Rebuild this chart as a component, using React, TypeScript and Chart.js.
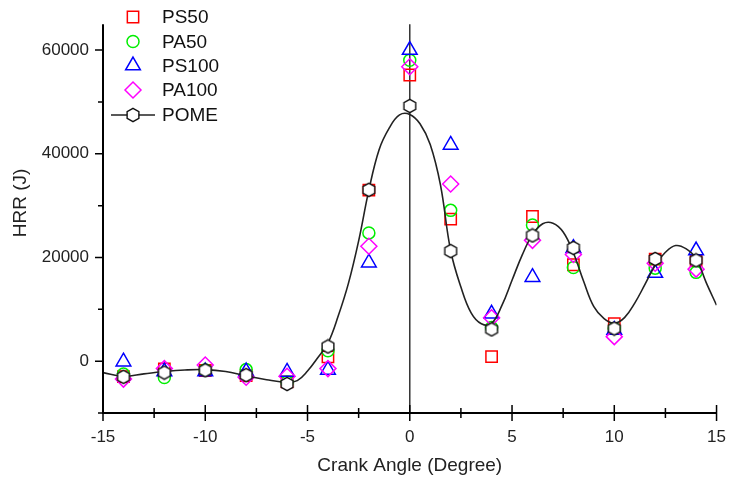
import React, { useEffect, useRef } from 'react';
import { Chart, registerables } from 'chart.js';

Chart.register(...registerables);

// Heat release rate (J) per crank angle (degree) for each fuel blend
const crankAngles = [-14, -12, -10, -8, -6, -4, -2, 0, 2, 4, 6, 8, 10, 12, 14];
const ps50 = [-3000, -1500, -1800, -2800, -4000, 830, 33000, 55200, 27400, 870, 27900, 18600, 7250, 19700, 19400];
const pa50 = [-2500, -3140, -1700, -1630, -4000, 2000, 24740, 58050, 29090, 6500, 26250, 18070, 6300, 17940, 17130];
const ps100 = [-100, -2000, -2000, -2000, -2070, -1700, 19000, 60000, 41700, 9140, 16200, 21800, 6000, 17000, 21340];
const pa100 = [-3460, -1440, -750, -3100, -2900, -1440, 22170, 56790, 34180, 8380, 23300, 20590, 4730, 18890, 17750];
const pome = [-3020, -2200, -1760, -2700, -4400, 2830, 33050, 49230, 21230, 6120, 24250, 21850, 6300, 19710, 19450];

// Smoothed POME fit curve
const fitAngles = [-15, -14, -13, -12, -11, -10, -9, -8, -7, -6, -5.5, -5, -4.5, -4, -3.5, -3, -2.5, -2, -1.5, -1, -0.5, 0, 0.5, 1, 1.5, 2, 2.5, 3, 3.5, 4, 4.5, 5, 5.5, 6, 6.5, 7, 7.5, 8, 8.5, 9, 9.5, 10, 10.5, 11, 11.5, 12, 12.5, 13, 13.5, 14, 14.5, 15];
const fitHrr = [-2200, -2900, -2450, -2000, -1700, -1630, -2000, -2830, -3590, -4080, -3750, -1900, 650, 3500, 8700, 15000, 23200, 33000, 40800, 45000, 47500, 47600, 45800, 41800, 34000, 21300, 14300, 9300, 7200, 7300, 10700, 15600, 20500, 24400, 26500, 26600, 24900, 20900, 15400, 10500, 8200, 7300, 8400, 11200, 14800, 18500, 21000, 22300, 21700, 19800, 15100, 10800];

const xMajorTicks = [-15, -10, -5, 0, 5, 10, 15];
const xMinorTicks = [-12.5, -7.5, -2.5, 2.5, 7.5, 12.5];
const yMajorTicks = [0, 20000, 40000, 60000];
const yMinorTicks = [-10000, 10000, 30000, 50000];

const FONT = "'Liberation Sans', Arial, Helvetica, sans-serif";

function makeHexagon(): HTMLCanvasElement {
  const c = document.createElement('canvas');
  c.width = 16;
  c.height = 16;
  const g = c.getContext('2d')!;
  g.beginPath();
  for (let k = 0; k < 6; k++) {
    const a = -Math.PI / 2 + (k * Math.PI) / 3;
    const px = 8 + Math.cos(a) * 6.8;
    const py = 8 + Math.sin(a) * 6.6;
    if (k === 0) g.moveTo(px, py);
    else g.lineTo(px, py);
  }
  g.closePath();
  g.fillStyle = '#ffffff';
  g.fill();
  g.lineWidth = 1.4;
  g.strokeStyle = '#111111';
  g.stroke();
  return c;
}

function toPoints(ys: number[]) {
  return crankAngles.map((x, i) => ({ x, y: ys[i] }));
}

type Marker = { label: string; color: string; style: string; radius: number };

const markers: Marker[] = [
  { label: 'PS50', color: '#ff0000', style: 'rect', radius: 8 },
  { label: 'PA50', color: '#00ee00', style: 'circle', radius: 6 },
  { label: 'PS100', color: '#0000ff', style: 'triangle', radius: 8.5 },
  { label: 'PA100', color: '#ff00ff', style: 'rectRot', radius: 8 },
];

function drawMarker(ctx: CanvasRenderingContext2D, m: Marker, x: number, y: number) {
  ctx.save();
  ctx.strokeStyle = m.color;
  ctx.lineWidth = 1.5;
  ctx.beginPath();
  const r = m.radius;
  if (m.style === 'rect') {
    const s = Math.SQRT1_2 * r;
    ctx.rect(x - s, y - s, 2 * s, 2 * s);
  } else if (m.style === 'circle') {
    ctx.arc(x, y, r, 0, Math.PI * 2);
  } else if (m.style === 'triangle') {
    for (let k = 0; k < 3; k++) {
      const a = (k * 2 * Math.PI) / 3;
      const px = x + Math.sin(a) * r;
      const py = y - Math.cos(a) * r;
      if (k === 0) ctx.moveTo(px, py);
      else ctx.lineTo(px, py);
    }
    ctx.closePath();
  } else {
    ctx.moveTo(x - r, y);
    ctx.lineTo(x, y - r);
    ctx.lineTo(x + r, y);
    ctx.lineTo(x, y + r);
    ctx.closePath();
  }
  ctx.stroke();
  ctx.restore();
}

export default function App() {
  const canvasRef = useRef<HTMLCanvasElement | null>(null);

  useEffect(() => {
    const canvas = canvasRef.current;
    if (!canvas) return;
    const hexagon = makeHexagon();

    const zeroLinePlugin = {
      id: 'zeroLine',
      beforeDatasetsDraw(chart: any) {
        const { ctx, chartArea, scales } = chart;
        const x0 = scales.x.getPixelForValue(0);
        ctx.save();
        ctx.strokeStyle = '#333333';
        ctx.lineWidth = 1.5;
        ctx.beginPath();
        ctx.moveTo(x0, chartArea.top);
        ctx.lineTo(x0, chartArea.bottom);
        ctx.stroke();
        ctx.restore();
      },
    };

    const axesPlugin = {
      id: 'originAxes',
      afterDraw(chart: any) {
        const { ctx, chartArea, scales } = chart;
        const { left, right, top, bottom } = chartArea;
        ctx.save();
        ctx.strokeStyle = '#000000';
        ctx.lineWidth = 2;
        ctx.beginPath();
        ctx.moveTo(left, top);
        ctx.lineTo(left, bottom);
        ctx.lineTo(right, bottom);
        ctx.stroke();
        ctx.lineWidth = 1.5;
        ctx.beginPath();
        xMajorTicks.forEach((v) => {
          const px = scales.x.getPixelForValue(v);
          ctx.moveTo(px, bottom - 8);
          ctx.lineTo(px, bottom + 8);
        });
        xMinorTicks.forEach((v) => {
          const px = scales.x.getPixelForValue(v);
          ctx.moveTo(px, bottom - 5);
          ctx.lineTo(px, bottom + 5);
        });
        yMajorTicks.forEach((v) => {
          const py = scales.y.getPixelForValue(v);
          ctx.moveTo(left - 8, py);
          ctx.lineTo(left, py);
        });
        yMinorTicks.forEach((v) => {
          const py = scales.y.getPixelForValue(v);
          ctx.moveTo(left - 5, py);
          ctx.lineTo(left, py);
        });
        ctx.stroke();

        // vertical axis title
        ctx.font = `19px ${FONT}`;
        ctx.fillStyle = '#222222';
        ctx.textAlign = 'center';
        ctx.textBaseline = 'middle';
        ctx.translate(21, 203);
        ctx.rotate(-Math.PI / 2);
        ctx.fillText('HRR (J)', 0, 0);
        ctx.restore();
      },
    };

    const legendPlugin = {
      id: 'originLegend',
      afterDraw(chart: any) {
        const { ctx } = chart;
        const mx = 133;
        const tx = 162;
        const rows = [17, 41.5, 65.5, 90, 115];
        ctx.save();
        ctx.font = `19px ${FONT}`;
        ctx.fillStyle = '#111111';
        ctx.textBaseline = 'middle';
        ctx.textAlign = 'left';
        markers.forEach((m, i) => {
          drawMarker(ctx, m, mx, rows[i]);
          ctx.fillText(m.label, tx, rows[i] + 1);
        });
        const py = rows[4];
        ctx.strokeStyle = '#222222';
        ctx.lineWidth = 1.6;
        ctx.beginPath();
        ctx.moveTo(111, py);
        ctx.lineTo(155, py);
        ctx.stroke();
        ctx.drawImage(hexagon, mx - 8, py - 8);
        ctx.fillText('POME', tx, py + 1);
        ctx.restore();
      },
    };

    const scatterSet = (m: Marker, ys: number[], order: number) => ({
      type: 'scatter' as const,
      label: m.label,
      data: toPoints(ys),
      showLine: false,
      pointStyle: m.style,
      pointRadius: m.radius,
      pointBorderWidth: 1.5,
      borderColor: m.color,
      backgroundColor: 'rgba(0,0,0,0)',
      pointBackgroundColor: 'rgba(0,0,0,0)',
      order,
    });

    const chart = new Chart(canvas, {
      type: 'scatter',
      data: {
        datasets: [
          scatterSet(markers[0], ps50, 5),
          scatterSet(markers[1], pa50, 4),
          scatterSet(markers[2], ps100, 3),
          scatterSet(markers[3], pa100, 2),
          {
            type: 'line' as const,
            label: 'POME fit',
            data: fitAngles.map((x, i) => ({ x, y: fitHrr[i] })),
            borderColor: '#222222',
            borderWidth: 1.6,
            pointRadius: 0,
            tension: 0.4,
            fill: false,
            order: 1,
          },
          {
            type: 'scatter' as const,
            label: 'POME',
            data: toPoints(pome),
            showLine: false,
            pointStyle: hexagon,
            pointRadius: 7,
            order: 0,
          },
        ] as any,
      },
      options: {
        animation: false,
        responsive: true,
        maintainAspectRatio: false,
        events: [],
        layout: { padding: { top: 18, right: 7, left: 41, bottom: 0 } },
        plugins: {
          legend: { display: false },
          tooltip: { enabled: false },
        },
        scales: {
          x: {
            type: 'linear',
            min: -15,
            max: 15,
            afterBuildTicks: (s: any) => {
              s.ticks = xMajorTicks.map((value) => ({ value }));
            },
            afterFit: (s: any) => {
              s.height = 66;
            },
            grid: { display: false, drawTicks: false },
            border: { display: false },
            ticks: {
              padding: 14,
              maxRotation: 0,
              autoSkip: false,
              color: '#222222',
              font: { family: FONT, size: 17 },
              callback: (v: any) => String(v),
            },
            title: {
              display: true,
              text: 'Crank Angle (Degree)',
              color: '#222222',
              font: { family: FONT, size: 19 },
              padding: { top: 0, bottom: 2 },
            },
          },
          y: {
            type: 'linear',
            min: -10000,
            max: 65000,
            afterBuildTicks: (s: any) => {
              s.ticks = yMajorTicks.map((value) => ({ value }));
            },
            afterFit: (s: any) => {
              s.width = 62;
            },
            grid: { display: false, drawTicks: false },
            border: { display: false },
            ticks: {
              padding: 14,
              autoSkip: false,
              color: '#222222',
              font: { family: FONT, size: 17 },
              callback: (v: any) => String(v),
            },
          },
        },
      },
      plugins: [zeroLinePlugin, axesPlugin, legendPlugin],
    });

    return () => {
      chart.destroy();
    };
  }, []);

  return (
    <div style={{ position: 'fixed', left: 0, top: 0, width: 740, height: 479, background: '#ffffff' }}>
      <canvas ref={canvasRef} />
    </div>
  );
}
